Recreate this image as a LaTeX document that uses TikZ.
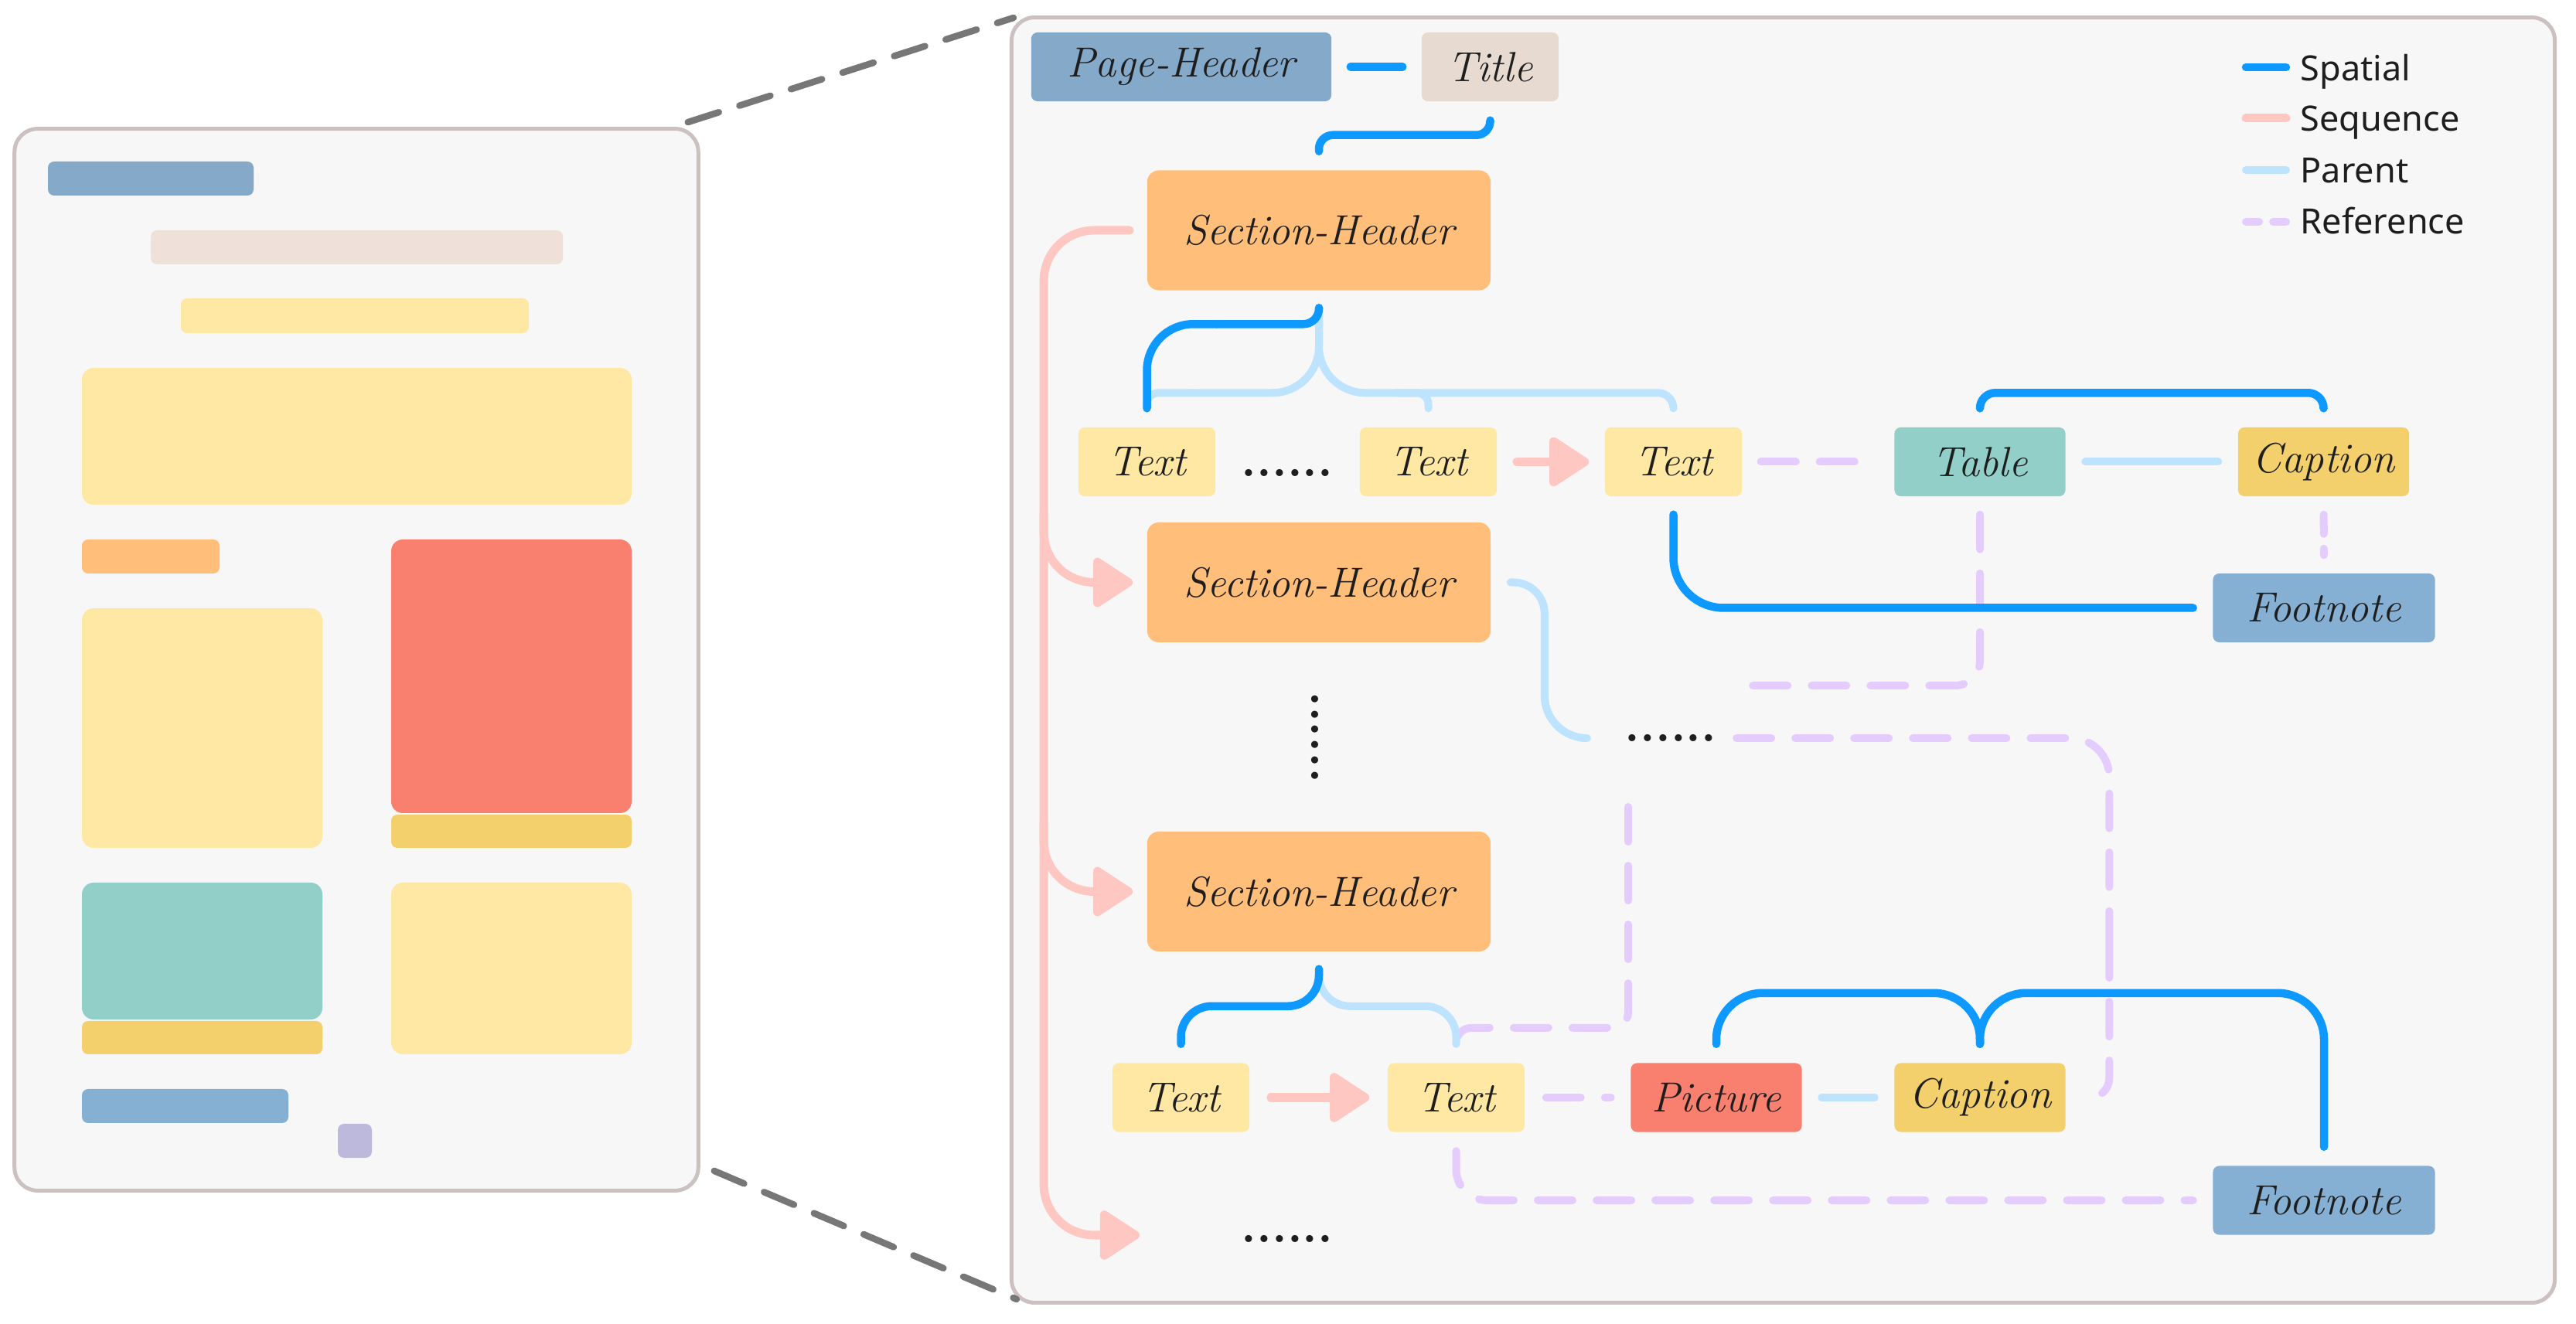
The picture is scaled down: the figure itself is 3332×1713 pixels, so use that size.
\documentclass[tikz,border=0pt]{standalone}
\usepackage{fontspec}
\newfontfamily\legfont{Noto Sans}
\usetikzlibrary{arrows.meta,calc}
\definecolor{cspatial}{HTML}{0D99FF}
\definecolor{cseq}{HTML}{FFC7C2}
\definecolor{cparent}{HTML}{BDE3FF}
\definecolor{cref}{HTML}{E4CCFF}
\definecolor{cph}{HTML}{85A9C8}
\definecolor{ctitle}{HTML}{E7DAD0}
\definecolor{ctitlel}{HTML}{EFE1D9}
\definecolor{csh}{HTML}{FFBE79}
\definecolor{ctext}{HTML}{FFE8A3}
\definecolor{ctable}{HTML}{92CFC8}
\definecolor{ccap}{HTML}{F3D06B}
\definecolor{cpic}{HTML}{F9806F}
\definecolor{cfn}{HTML}{85B0D3}
\definecolor{cframe}{HTML}{CCC1C1}
\definecolor{cbg}{HTML}{F7F7F7}
\definecolor{cgray}{HTML}{777777}
\definecolor{clav}{HTML}{BDB9DC}
\definecolor{ctxt}{HTML}{1E1E1E}
\tikzset{
  lbl/.style={inner sep=0pt, text=ctxt, font=\fontsize{15.5}{18}\selectfont\itshape, draw=none},
  smallbox/.style={lbl, rounded corners=0.8mm, minimum width=1.77cm, minimum height=0.89cm},
  midbox/.style={lbl, rounded corners=0.8mm, minimum width=2.21cm, minimum height=0.89cm},
  fnbox/.style={lbl, rounded corners=0.8mm, minimum width=2.87cm, minimum height=0.89cm, fill=cfn},
  phbox/.style={lbl, rounded corners=0.8mm, minimum width=3.88cm, minimum height=0.89cm, fill=cph},
  shbox/.style={lbl, rounded corners=1.5mm, minimum width=4.44cm, minimum height=1.55cm, fill=csh},
  textbox/.style={smallbox, fill=ctext},
  dotrow/.style={inner sep=0pt, text=ctxt, font=\fontsize{18}{20}\selectfont\bfseries},
  panelframe/.style={draw=cframe, line width=0.5mm, fill=cbg, rounded corners=3mm, inner sep=0pt},
  spatial/.style={draw=cspatial, line width=1.05mm, line cap=round, line join=round},
  seqline/.style={draw=cseq, line width=1.1mm, line cap=round, line join=round},
  parentline/.style={draw=cparent, line width=1mm, line cap=round, line join=round},
  refline/.style={draw=cref, line width=1mm, line cap=round, dash pattern=on 4.5mm off 3.1mm},
  seqarrow/.style={seqline, -{Triangle[length=5.6mm,width=7mm,round]}},
  zoomline/.style={draw=cgray, line width=0.85mm, line cap=round, dash pattern=on 4.2mm off 2.8mm},
  legtext/.style={anchor=base west, inner sep=0pt, text=ctxt, font=\legfont\fontsize{12.8}{15}\selectfont},
  blk/.style={rounded corners=0.8mm},
  bigblk/.style={rounded corners=1.5mm},
}
\begin{document}
\begin{tikzpicture}[x=0.01cm,y=-0.01cm]
\useasboundingbox (0,0) rectangle (3332,1713);
\fill[white] (0,0) rectangle (3332,1713);

% frames
\node[panelframe, minimum width=8.84cm, minimum height=13.73cm] (lpage) at (461,853.5) {};
\node[panelframe, minimum width=19.95cm, minimum height=16.62cm] (rpanel) at (2306.5,854) {};

% zoom lines
\draw[zoomline] ($(lpage.north east)+(-16,-6)$) -- ($(rpanel.north west)+(5,3)$);
\draw[zoomline] ($(lpage.south east)+(18,-28)$) -- ($(rpanel.south west)+(9,-7)$);

% left page thumbnail
\fill[cph, blk] (62,209) rectangle (328,253);
\fill[ctitlel, blk] (195,298) rectangle (728,342);
\fill[ctext, blk] (234,386) rectangle (684,431);
\fill[ctext, bigblk] (106,476) rectangle (817,653);
\fill[csh, blk] (106,698) rectangle (284,742);
\fill[cpic, bigblk] (506,698) rectangle (817,1052);
\fill[ccap, blk] (506,1054) rectangle (817,1097);
\fill[ctext, bigblk] (106,787) rectangle (417,1097);
\fill[ctable, bigblk] (106,1142) rectangle (417,1319);
\fill[ccap, blk] (106,1321) rectangle (417,1364);
\fill[ctext, bigblk] (506,1142) rectangle (817,1364);
\fill[cfn, blk] (106,1409) rectangle (373,1453);
\fill[clav, blk] (437,1454) rectangle (481,1498);

% nodes
\node[phbox] (ph) at (1528,86.5) {Page-Header};
\node[smallbox, fill=ctitle] (title) at (1927.5,86.5) {Title};
\node[shbox] (sh1) at (1706,298) {Section-Header};
\node[shbox] (sh2) at (1706,753.5) {Section-Header};
\node[shbox] (sh3) at (1706,1153.5) {Section-Header};
\node[textbox] (t1) at (1483.5,597.5) {Text};
\node[textbox] (t2) at (1847.5,597.5) {Text};
\node[textbox] (t3) at (2164.5,597.5) {Text};
\node[midbox, fill=ctable] (tab) at (2561,597.5) {Table};
\node[midbox, fill=ccap] (cap1) at (3005.5,597.5) {Caption};
\node[fnbox] (fn1) at (3006,786.5) {Footnote};
\node[textbox] (t4) at (1527.5,1420) {Text};
\node[textbox] (t5) at (1883.5,1420) {Text};
\node[midbox, fill=cpic] (pic) at (2220,1420) {Picture};
\node[midbox, fill=ccap] (cap2) at (2561,1420) {Caption};
\node[fnbox] (fn2) at (3006,1553) {Footnote};

\node[dotrow] (d1) at (1665,612) {......};
\node[dotrow] (d2) at (2161,955) {......};
\node[dotrow] (d3) at (1665,1603) {......};
\node[dotrow, rotate=90] (vd) at (1701,954) {......};

\coordinate (spine) at ($(sh1.west)+(-133,0)$);
\coordinate (tabref) at (2243,887);
\coordinate (refstart) at (2106,1044);
\coordinate (seqend) at (1474,1598);

% reference lines
\draw[refline, shorten <=2.4mm, shorten >=2.2mm] (t3) -- (tab);
\draw[refline, dash pattern=on 2.5mm off 1.9mm, shorten <=2.3mm, shorten >=2.3mm] (cap1) -- (fn1);
\draw[refline, rounded corners=3.2mm] ($(tab.south)+(0,23)$) |- (tabref);
\draw[refline, rounded corners=5mm] ($(d2.east)+(25,0)$) -| ($(cap2.east)+(56,-200)$);
\draw[refline, rounded corners=2.5mm] ($(cap2.east)+(56,-200)$) |- ($(cap2.east)+(29,0)$);
\draw[refline, rounded corners=2mm] (refstart) |- ($(t5.north)+(0,-45)$) -- ($(t5.north)+(0,-24)$);
\draw[refline, shorten <=2.7mm, shorten >=2.5mm] (t5) -- (pic);
\draw[refline, rounded corners=4mm] ($(t5.south)+(0,24)$) |- ($(fn2.west)+(-25,0)$);

% parent lines
\draw[parentline, rounded corners=6mm] ($(sh1.south)+(0,22)$) |- ($(t1.north)+(60,-44)$);
\draw[parentline, rounded corners=1.5mm] ($(t1.north)+(60,-44)$) -| ($(t1.north)+(0,-24)$);
\draw[parentline, rounded corners=6mm] ($(sh1.south)+(0,22)$) |- ($(t2.north)+(-40,-44)$);
\draw[parentline, rounded corners=2mm] ($(t2.north)+(-40,-44)$) -| ($(t3.north)+(0,-24)$);
\draw[parentline, rounded corners=1.5mm] ($(t2.north)+(-40,-44)$) -| ($(t2.north)+(0,-24)$);
\draw[parentline, shorten <=2.5mm, shorten >=2.5mm] (tab) -- (cap1);
\draw[parentline, rounded corners=4mm] ($(sh2.east)+(25,0)$) -| ($(sh2.east)+(69,100)$);
\draw[parentline, rounded corners=5.5mm] ($(sh2.east)+(69,100)$) |- ($(d2.west)+(-54,0)$);
\draw[parentline, rounded corners=4mm] ($(sh3.south)+(0,22)$) |- ($(t5.north)+(0,-73)$) -- ($(t5.north)+(0,-24)$);
\draw[parentline, shorten <=2.5mm, shorten >=2.5mm] (pic) -- (cap2);

% sequence lines
\draw[seqarrow, rounded corners=6.5mm] ($(sh1.west)+(-22,0)$) -| (spine |- seqend) -- (seqend);
\draw[seqarrow, rounded corners=6.5mm, shorten >=1.8mm] ($(sh2.west -| spine)+(0,-90)$) |- (sh2.west);
\draw[seqarrow, rounded corners=6.5mm, shorten >=1.8mm] ($(sh3.west -| spine)+(0,-90)$) |- (sh3.west);
\draw[seqarrow, shorten <=2.5mm, shorten >=2mm] (t2) -- (t3);
\draw[seqarrow, shorten <=2.7mm, shorten >=2.3mm] (t4) -- (t5);

% spatial lines
\draw[spatial, shorten <=2.4mm, shorten >=2.4mm] (ph) -- (title);
\draw[spatial, rounded corners=1.8mm] ($(title.south)+(0,24)$) |- ($(sh1.north)+(0,-45)$) -- ($(sh1.north)+(0,-24)$);
\draw[spatial, rounded corners=2mm] ($(sh1.south)+(0,22)$) |- ($(t1.north)+(90,-133)$);
\draw[spatial, rounded corners=6mm] ($(t1.north)+(90,-133)$) -| ($(t1.north)+(0,-24)$);
\draw[spatial, rounded corners=2mm] ($(tab.north)+(0,-24)$) |- ($(cap1.north)+(0,-44)$) -- ($(cap1.north)+(0,-24)$);
\draw[spatial, rounded corners=6.5mm] ($(t3.south)+(0,23)$) |- ($(fn1.west)+(-25,0)$);
\draw[spatial, rounded corners=4mm] ($(sh3.south)+(0,22)$) |- ($(t4.north)+(0,-73)$) -- ($(t4.north)+(0,-24)$);
\draw[spatial, rounded corners=6mm] ($(pic.north)+(0,-24)$) |- ($(cap2.north)+(0,-90)$) -- ($(cap2.north)+(0,-24)$);
\draw[spatial, rounded corners=6mm] ($(cap2.north)+(0,-24)$) |- ($(fn2.north)+(0,-223)$) -- ($(fn2.north)+(0,-24)$);

% legend
\node[legtext] (lg1) at (2975,105) {Spatial};
\node[legtext] (lg2) at (2975,170) {Sequence};
\node[legtext] (lg3) at (2975,237) {Parent};
\node[legtext] (lg4) at (2975,303) {Reference};
\draw[spatial] ($(lg1.base west)+(-70,-18)$) -- ++(52,0);
\draw[seqline] ($(lg2.base west)+(-70,-17)$) -- ++(52,0);
\draw[parentline] ($(lg3.base west)+(-70,-17)$) -- ++(52,0);
\draw[refline, dash pattern=on 1.7mm off 1.8mm] ($(lg4.base west)+(-70,-16)$) -- ++(52,0);
\end{tikzpicture}
\end{document}
